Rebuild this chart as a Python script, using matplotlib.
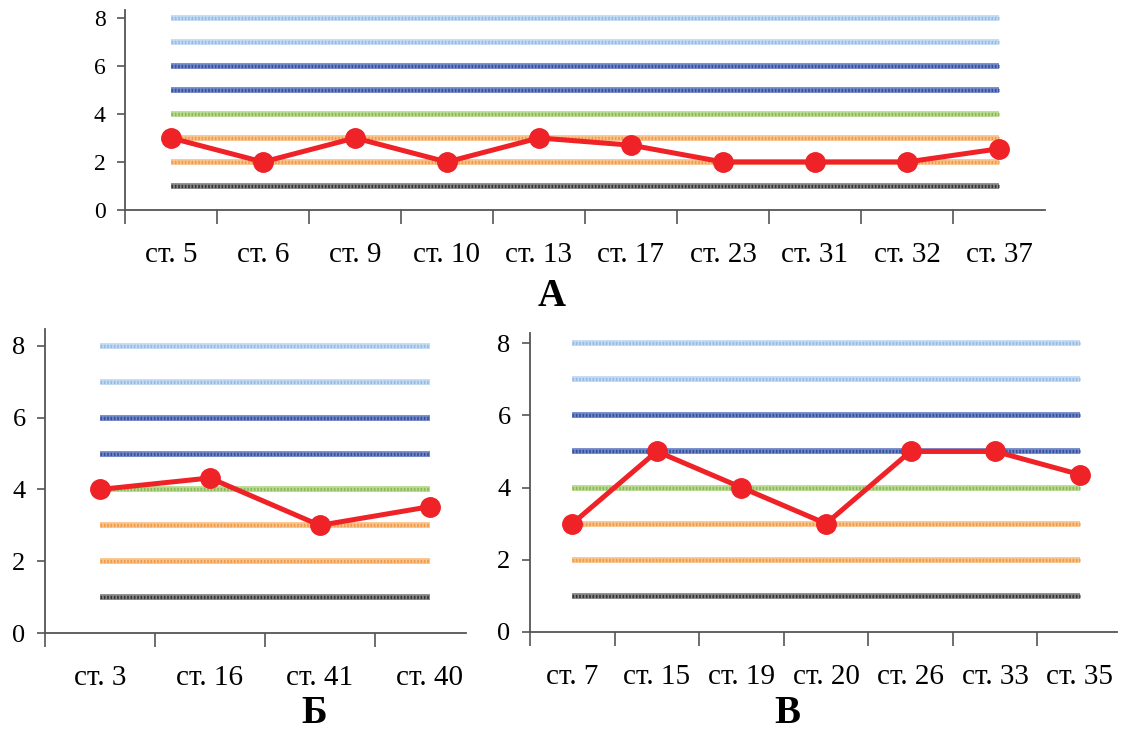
import matplotlib.pyplot as plt
import numpy as np

plt.rcParams['font.family'] = ['Liberation Serif', 'DejaVu Serif']

# panel A
labels_a = ['ст. 5', 'ст. 6', 'ст. 9', 'ст. 10', 'ст. 13', 'ст. 17', 'ст. 23', 'ст. 31', 'ст. 32', 'ст. 37']
values_a = [3, 2, 3, 2, 3, 2.7, 2, 2, 2, 2.55]
# panel Б
labels_b = ['ст. 3', 'ст. 16', 'ст. 41', 'ст. 40']
values_b = [4, 4.32, 3, 3.52]
# panel В
labels_c = ['ст. 7', 'ст. 15', 'ст. 19', 'ст. 20', 'ст. 26', 'ст. 33', 'ст. 35']
values_c = [3, 5, 4, 3, 5, 5, 4.36]

# reference levels and their colours (fill, dotted overlay)
levels = [1, 2, 3, 4, 5, 6, 7, 8]
level_colors = [('#8a8a8a', '#333333'), ('#f9c58f', '#f29a48'), ('#f9c58f', '#f29a48'),
                ('#bcdb95', '#86bb52'), ('#7389c8', '#34509f'), ('#7389c8', '#34509f'),
                ('#c4dbf3', '#94bbe6'), ('#c4dbf3', '#94bbe6')]

RED = '#ee2227'
AX_COL = '#555555'


def draw_panel(ax, labels, values, xmax, ytop, ylab_size):
    n = len(labels)
    x = np.arange(n)
    for lev, (light, dark) in zip(levels, level_colors):
        ax.hlines(lev, 0, n - 1, color=light, linewidth=4.2, zorder=1)
        ax.hlines(lev, 0, n - 1, color=dark, linewidth=2.4, linestyles=(0, (0.5, 0.5)), zorder=2)
    ax.plot(x, values, color=RED, linewidth=3.6, marker='o', markersize=14, zorder=5)

    ax.set_xlim(-0.5, xmax)
    ax.set_ylim(0, ytop)
    for s in ['top', 'right']:
        ax.spines[s].set_visible(False)
    for s in ['left', 'bottom']:
        ax.spines[s].set_color(AX_COL)
        ax.spines[s].set_linewidth(1.3)

    ax.set_yticks([0, 2, 4, 6, 8])
    ax.tick_params(axis='y', length=6, width=1.2, color=AX_COL, labelsize=ylab_size, pad=8)
    # ticks at category boundaries, labels at centres
    ax.set_xticks(np.arange(n) - 0.5)
    ax.set_xticklabels([])
    ax.tick_params(axis='x', which='major', length=10, width=1.2, color=AX_COL)
    ax.set_xticks(x, minor=True)
    ax.set_xticklabels(labels, minor=True)
    ax.tick_params(axis='x', which='minor', length=0, labelsize=21, pad=23)


fig = plt.figure(figsize=(11.21, 7.33), dpi=100)

ax_a = fig.add_axes([0.1115, 0.7135, 0.8207, 0.2729])
draw_panel(ax_a, labels_a, values_a, 9.5, 8.33, 17)

ax_b = fig.add_axes([0.0401, 0.1364, 0.3756, 0.4147])
draw_panel(ax_b, labels_b, values_b, 3.33, 8.47, 19)

ax_c = fig.add_axes([0.4728, 0.1378, 0.5236, 0.408])
draw_panel(ax_c, labels_c, values_c, 6.44, 8.28, 19)

# panel letters
fig.text(0.4924, 0.5825, 'А', ha='center', va='baseline', fontsize=28, fontweight='bold')
fig.text(0.2801, 0.0135, 'Б', ha='center', va='baseline', fontsize=28, fontweight='bold')
fig.text(0.7020, 0.0135, 'В', ha='center', va='baseline', fontsize=28, fontweight='bold')

fig.savefig('out.png', dpi=100)
